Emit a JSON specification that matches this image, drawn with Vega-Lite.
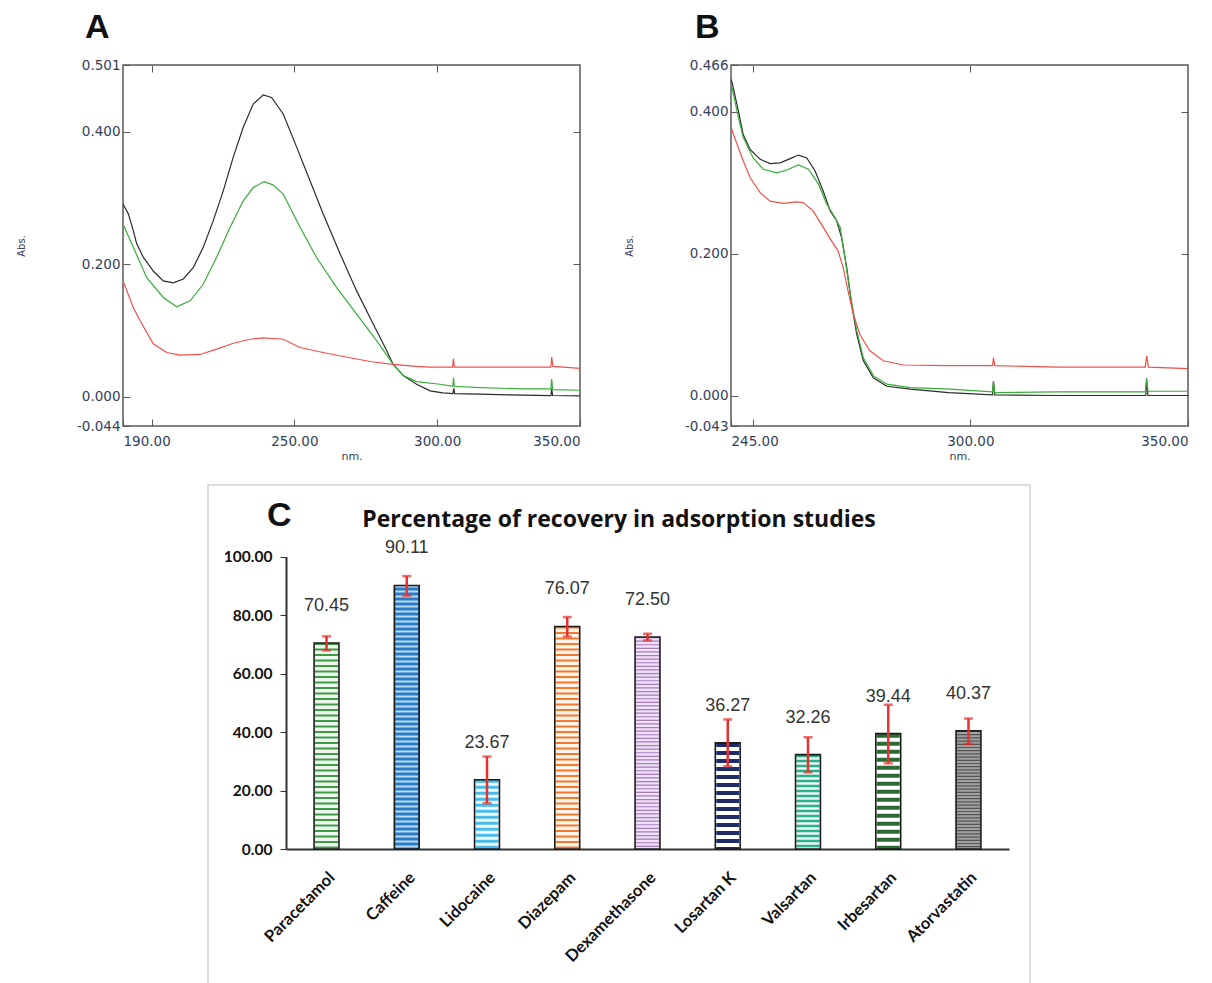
{
  "$schema": "https://vega.github.io/schema/vega-lite/v6.json",
  "background": "white",
  "padding": {"left": 15, "top": 10, "right": 10, "bottom": 0},
  "config": {"view": {"stroke": "#5a5a5a", "strokeWidth": 1.5}, "font": "DejaVu Sans"},
  "datasets": {
    "specA": [
      {"nm": 190.0, "abs": 0.291, "s": "k"}, {"nm": 191.9, "abs": 0.276, "s": "k"}, {"nm": 193.6, "abs": 0.251, "s": "k"}, {"nm": 194.8, "abs": 0.231, "s": "k"}, {"nm": 197.1, "abs": 0.211, "s": "k"}, {"nm": 200.6, "abs": 0.190, "s": "k"}, {"nm": 204.1, "abs": 0.175, "s": "k"}, {"nm": 207.6, "abs": 0.172, "s": "k"}, {"nm": 211.1, "abs": 0.178, "s": "k"}, {"nm": 214.6, "abs": 0.195, "s": "k"}, {"nm": 218.1, "abs": 0.226, "s": "k"}, {"nm": 221.6, "abs": 0.266, "s": "k"}, {"nm": 225.1, "abs": 0.311, "s": "k"}, {"nm": 228.6, "abs": 0.362, "s": "k"}, {"nm": 232.1, "abs": 0.407, "s": "k"}, {"nm": 235.6, "abs": 0.442, "s": "k"}, {"nm": 239.1, "abs": 0.456, "s": "k"}, {"nm": 242.0, "abs": 0.452, "s": "k"}, {"nm": 246.1, "abs": 0.427, "s": "k"}, {"nm": 250.8, "abs": 0.377, "s": "k"}, {"nm": 255.5, "abs": 0.326, "s": "k"}, {"nm": 260.1, "abs": 0.276, "s": "k"}, {"nm": 266.0, "abs": 0.216, "s": "k"}, {"nm": 271.8, "abs": 0.160, "s": "k"}, {"nm": 277.6, "abs": 0.110, "s": "k"}, {"nm": 282.3, "abs": 0.070, "s": "k"}, {"nm": 284.6, "abs": 0.049, "s": "k"}, {"nm": 288.1, "abs": 0.032, "s": "k"}, {"nm": 292.8, "abs": 0.019, "s": "k"}, {"nm": 297.5, "abs": 0.009, "s": "k"}, {"nm": 302.0, "abs": 0.006, "s": "k"}, {"nm": 305.5, "abs": 0.005, "s": "k"}, {"nm": 305.8, "abs": 0.013, "s": "k"}, {"nm": 306.1, "abs": 0.005, "s": "k"}, {"nm": 315.0, "abs": 0.004, "s": "k"}, {"nm": 325.0, "abs": 0.003, "s": "k"}, {"nm": 339.8, "abs": 0.002, "s": "k"}, {"nm": 340.1, "abs": 0.012, "s": "k"}, {"nm": 340.4, "abs": 0.002, "s": "k"}, {"nm": 350.0, "abs": 0.0015, "s": "k"},
      {"nm": 190.0, "abs": 0.261, "s": "g"}, {"nm": 193.6, "abs": 0.226, "s": "g"}, {"nm": 198.3, "abs": 0.180, "s": "g"}, {"nm": 204.1, "abs": 0.150, "s": "g"}, {"nm": 208.8, "abs": 0.136, "s": "g"}, {"nm": 213.5, "abs": 0.145, "s": "g"}, {"nm": 218.1, "abs": 0.170, "s": "g"}, {"nm": 222.8, "abs": 0.211, "s": "g"}, {"nm": 227.5, "abs": 0.256, "s": "g"}, {"nm": 232.1, "abs": 0.296, "s": "g"}, {"nm": 235.6, "abs": 0.316, "s": "g"}, {"nm": 239.4, "abs": 0.325, "s": "g"}, {"nm": 242.5, "abs": 0.320, "s": "g"}, {"nm": 246.1, "abs": 0.306, "s": "g"}, {"nm": 252.0, "abs": 0.256, "s": "g"}, {"nm": 257.8, "abs": 0.210, "s": "g"}, {"nm": 264.8, "abs": 0.165, "s": "g"}, {"nm": 271.8, "abs": 0.125, "s": "g"}, {"nm": 278.8, "abs": 0.085, "s": "g"}, {"nm": 284.6, "abs": 0.049, "s": "g"}, {"nm": 288.2, "abs": 0.032, "s": "g"}, {"nm": 292.8, "abs": 0.023, "s": "g"}, {"nm": 301.0, "abs": 0.019, "s": "g"}, {"nm": 305.5, "abs": 0.016, "s": "g"}, {"nm": 305.7, "abs": 0.029, "s": "g"}, {"nm": 306.0, "abs": 0.016, "s": "g"}, {"nm": 315.0, "abs": 0.014, "s": "g"}, {"nm": 330.2, "abs": 0.012, "s": "g"}, {"nm": 339.8, "abs": 0.012, "s": "g"}, {"nm": 340.1, "abs": 0.027, "s": "g"}, {"nm": 340.4, "abs": 0.011, "s": "g"}, {"nm": 350.0, "abs": 0.010, "s": "g"},
      {"nm": 190.0, "abs": 0.175, "s": "r"}, {"nm": 193.6, "abs": 0.135, "s": "r"}, {"nm": 196.0, "abs": 0.115, "s": "r"}, {"nm": 200.6, "abs": 0.080, "s": "r"}, {"nm": 205.3, "abs": 0.067, "s": "r"}, {"nm": 209.9, "abs": 0.063, "s": "r"}, {"nm": 217.0, "abs": 0.064, "s": "r"}, {"nm": 222.8, "abs": 0.072, "s": "r"}, {"nm": 228.6, "abs": 0.081, "s": "r"}, {"nm": 234.5, "abs": 0.087, "s": "r"}, {"nm": 239.1, "abs": 0.089, "s": "r"}, {"nm": 246.1, "abs": 0.087, "s": "r"}, {"nm": 252.0, "abs": 0.0745, "s": "r"}, {"nm": 260.0, "abs": 0.067, "s": "r"}, {"nm": 269.5, "abs": 0.059, "s": "r"}, {"nm": 277.0, "abs": 0.053, "s": "r"}, {"nm": 284.6, "abs": 0.049, "s": "r"}, {"nm": 292.8, "abs": 0.046, "s": "r"}, {"nm": 297.5, "abs": 0.045, "s": "r"}, {"nm": 305.4, "abs": 0.045, "s": "r"}, {"nm": 305.7, "abs": 0.058, "s": "r"}, {"nm": 306.0, "abs": 0.045, "s": "r"}, {"nm": 320.0, "abs": 0.045, "s": "r"}, {"nm": 339.8, "abs": 0.045, "s": "r"}, {"nm": 340.1, "abs": 0.060, "s": "r"}, {"nm": 340.5, "abs": 0.046, "s": "r"}, {"nm": 350.0, "abs": 0.043, "s": "r"}
    ],
    "specB": [
      {"nm": 245.0, "abs": 0.446, "s": "k"}, {"nm": 245.3, "abs": 0.440, "s": "k"}, {"nm": 246.7, "abs": 0.401, "s": "k"}, {"nm": 247.8, "abs": 0.368, "s": "k"}, {"nm": 249.4, "abs": 0.347, "s": "k"}, {"nm": 251.7, "abs": 0.333, "s": "k"}, {"nm": 254.0, "abs": 0.327, "s": "k"}, {"nm": 256.3, "abs": 0.328, "s": "k"}, {"nm": 258.6, "abs": 0.334, "s": "k"}, {"nm": 260.5, "abs": 0.339, "s": "k"}, {"nm": 262.4, "abs": 0.335, "s": "k"}, {"nm": 264.3, "abs": 0.317, "s": "k"}, {"nm": 266.2, "abs": 0.288, "s": "k"}, {"nm": 267.8, "abs": 0.260, "s": "k"}, {"nm": 269.3, "abs": 0.246, "s": "k"}, {"nm": 270.4, "abs": 0.2225, "s": "k"}, {"nm": 271.6, "abs": 0.180, "s": "k"}, {"nm": 272.7, "abs": 0.129, "s": "k"}, {"nm": 273.9, "abs": 0.086, "s": "k"}, {"nm": 275.4, "abs": 0.049, "s": "k"}, {"nm": 277.7, "abs": 0.025, "s": "k"}, {"nm": 280.8, "abs": 0.013, "s": "k"}, {"nm": 286.2, "abs": 0.009, "s": "k"}, {"nm": 295.0, "abs": 0.004, "s": "k"}, {"nm": 305.1, "abs": 0.001, "s": "k"}, {"nm": 305.3, "abs": 0.020, "s": "k"}, {"nm": 305.6, "abs": 0.001, "s": "k"}, {"nm": 320.0, "abs": 0.0, "s": "k"}, {"nm": 340.3, "abs": 0.0, "s": "k"}, {"nm": 340.5, "abs": 0.022, "s": "k"}, {"nm": 340.8, "abs": 0.0, "s": "k"}, {"nm": 350.0, "abs": 0.0, "s": "k"},
      {"nm": 245.0, "abs": 0.438, "s": "g"}, {"nm": 245.3, "abs": 0.432, "s": "g"}, {"nm": 246.7, "abs": 0.392, "s": "g"}, {"nm": 247.8, "abs": 0.364, "s": "g"}, {"nm": 250.1, "abs": 0.335, "s": "g"}, {"nm": 252.4, "abs": 0.319, "s": "g"}, {"nm": 255.5, "abs": 0.314, "s": "g"}, {"nm": 257.8, "abs": 0.318, "s": "g"}, {"nm": 260.5, "abs": 0.325, "s": "g"}, {"nm": 262.8, "abs": 0.319, "s": "g"}, {"nm": 265.1, "abs": 0.298, "s": "g"}, {"nm": 267.0, "abs": 0.270, "s": "g"}, {"nm": 268.9, "abs": 0.251, "s": "g"}, {"nm": 270.1, "abs": 0.237, "s": "g"}, {"nm": 271.2, "abs": 0.194, "s": "g"}, {"nm": 272.4, "abs": 0.143, "s": "g"}, {"nm": 273.9, "abs": 0.091, "s": "g"}, {"nm": 275.4, "abs": 0.053, "s": "g"}, {"nm": 277.7, "abs": 0.028, "s": "g"}, {"nm": 280.8, "abs": 0.016, "s": "g"}, {"nm": 286.2, "abs": 0.011, "s": "g"}, {"nm": 295.3, "abs": 0.009, "s": "g"}, {"nm": 305.1, "abs": 0.005, "s": "g"}, {"nm": 305.3, "abs": 0.020, "s": "g"}, {"nm": 305.6, "abs": 0.004, "s": "g"}, {"nm": 320.0, "abs": 0.005, "s": "g"}, {"nm": 340.2, "abs": 0.005, "s": "g"}, {"nm": 340.5, "abs": 0.025, "s": "g"}, {"nm": 340.8, "abs": 0.006, "s": "g"}, {"nm": 350.0, "abs": 0.006, "s": "g"},
      {"nm": 245.0, "abs": 0.380, "s": "r"}, {"nm": 245.3, "abs": 0.373, "s": "r"}, {"nm": 246.7, "abs": 0.349, "s": "r"}, {"nm": 247.8, "abs": 0.331, "s": "r"}, {"nm": 249.4, "abs": 0.307, "s": "r"}, {"nm": 251.7, "abs": 0.286, "s": "r"}, {"nm": 254.0, "abs": 0.274, "s": "r"}, {"nm": 257.0, "abs": 0.271, "s": "r"}, {"nm": 260.1, "abs": 0.273, "s": "r"}, {"nm": 261.6, "abs": 0.272, "s": "r"}, {"nm": 263.9, "abs": 0.260, "s": "r"}, {"nm": 266.2, "abs": 0.237, "s": "r"}, {"nm": 268.1, "abs": 0.218, "s": "r"}, {"nm": 269.6, "abs": 0.204, "s": "r"}, {"nm": 270.8, "abs": 0.180, "s": "r"}, {"nm": 271.9, "abs": 0.147, "s": "r"}, {"nm": 273.1, "abs": 0.115, "s": "r"}, {"nm": 274.6, "abs": 0.086, "s": "r"}, {"nm": 276.9, "abs": 0.063, "s": "r"}, {"nm": 280.0, "abs": 0.049, "s": "r"}, {"nm": 284.6, "abs": 0.043, "s": "r"}, {"nm": 295.0, "abs": 0.042, "s": "r"}, {"nm": 305.1, "abs": 0.042, "s": "r"}, {"nm": 305.3, "abs": 0.053, "s": "r"}, {"nm": 305.6, "abs": 0.042, "s": "r"}, {"nm": 320.0, "abs": 0.040, "s": "r"}, {"nm": 340.2, "abs": 0.040, "s": "r"}, {"nm": 340.5, "abs": 0.056, "s": "r"}, {"nm": 340.9, "abs": 0.040, "s": "r"}, {"nm": 350.0, "abs": 0.038, "s": "r"}
    ],
    "rec": [
      {"drug": "Paracetamol", "value": 70.45, "lo": 67.9, "hi": 72.7},
      {"drug": "Caffeine", "value": 90.11, "lo": 86.6, "hi": 93.3},
      {"drug": "Lidocaine", "value": 23.67, "lo": 15.7, "hi": 31.6},
      {"drug": "Diazepam", "value": 76.07, "lo": 72.6, "hi": 79.3},
      {"drug": "Dexamethasone", "value": 72.50, "lo": 71.3, "hi": 73.6},
      {"drug": "Losartan K", "value": 36.27, "lo": 28.3, "hi": 44.3},
      {"drug": "Valsartan", "value": 32.26, "lo": 26.2, "hi": 38.2},
      {"drug": "Irbesartan", "value": 39.44, "lo": 29.3, "hi": 49.3},
      {"drug": "Atorvastatin", "value": 40.37, "lo": 35.9, "hi": 44.6}
    ],
    "none": []
  },
  "spacing": 21,
  "vconcat": [
    {
      "bounds": "flush",
      "spacing": 151,
      "hconcat": [
        {
          "width": 457, "height": 361,
          "title": {"text": "A", "anchor": "start", "frame": "group", "dx": -38, "offset": 13, "fontSize": 34, "font": "Liberation Sans", "fontWeight": "bold", "color": "#111111"},
          "resolve": {"axis": {"x": "independent", "y": "independent"}},
          "layer": [
            {
              "data": {"name": "specA"},
              "mark": {"type": "line", "strokeWidth": 1.2, "clip": true},
              "encoding": {
                "x": {"field": "nm", "type": "quantitative", "scale": {"domain": [190, 350], "nice": false, "zero": false},
                      "axis": {"values": [190, 200, 250, 300, 350], "labelExpr": "datum.value == 200 ? '' : format(datum.value, '.2f')", "tickSize": -7, "tickColor": "#5a5a5a", "domain": false, "grid": false, "labelPadding": 15, "labelFont": "DejaVu Sans", "labelFontSize": 13.5, "labelColor": "#34405a", "title": "nm.", "titleFont": "DejaVu Sans", "titleFontSize": 11, "titleFontWeight": "normal", "titleColor": "#34405a", "titlePadding": 3}},
                "y": {"field": "abs", "type": "quantitative", "scale": {"domain": [-0.044, 0.501], "nice": false, "zero": false},
                      "axis": {"values": [-0.044, 0, 0.2, 0.4, 0.501], "labelExpr": "replace(format(datum.value, '.3f'), '\u2212', '-')", "tickSize": -7, "tickColor": "#5a5a5a", "domain": false, "grid": false, "labelPadding": 10, "labelFont": "DejaVu Sans", "labelFontSize": 13.5, "labelColor": "#34405a", "title": "Abs.", "titleFont": "DejaVu Sans", "titleFontSize": 10, "titleFontWeight": "normal", "titleColor": "#34405a", "titlePadding": 50}},
                "color": {"field": "s", "type": "nominal", "scale": {"domain": ["k", "g", "r"], "range": ["#2b2b2b", "#3aac3a", "#f0504c"]}, "legend": null}
              }
            },
            {
              "mark": {"type": "rule", "color": "#444444", "strokeWidth": 1.2},
              "encoding": {
                "x": {"datum": 190, "type": "quantitative", "axis": {"orient": "top", "values": [200, 250, 300], "labels": false, "domain": false, "grid": false, "tickSize": -7, "tickColor": "#5a5a5a", "title": null}},
                "x2": {"datum": 350},
                "y": {"datum": 0, "type": "quantitative", "axis": {"orient": "right", "values": [0.2, 0.4], "labels": false, "domain": false, "grid": false, "tickSize": -7, "tickColor": "#5a5a5a", "title": null}}
              }
            }
          ]
        },
        {
          "width": 457, "height": 361,
          "title": {"text": "B", "anchor": "start", "frame": "group", "dx": -36, "offset": 13, "fontSize": 34, "font": "Liberation Sans", "fontWeight": "bold", "color": "#111111"},
          "resolve": {"axis": {"x": "independent", "y": "independent"}},
          "layer": [
            {
              "data": {"name": "specB"},
              "mark": {"type": "line", "strokeWidth": 1.2, "clip": true},
              "encoding": {
                "x": {"field": "nm", "type": "quantitative", "scale": {"domain": [245, 350], "nice": false, "zero": false},
                      "axis": {"values": [245, 250, 300, 350], "labelExpr": "datum.value == 250 ? '' : format(datum.value, '.2f')", "tickSize": -7, "tickColor": "#5a5a5a", "domain": false, "grid": false, "labelPadding": 15, "labelFont": "DejaVu Sans", "labelFontSize": 13.5, "labelColor": "#34405a", "title": "nm.", "titleFont": "DejaVu Sans", "titleFontSize": 11, "titleFontWeight": "normal", "titleColor": "#34405a", "titlePadding": 3}},
                "y": {"field": "abs", "type": "quantitative", "scale": {"domain": [-0.043, 0.466], "nice": false, "zero": false},
                      "axis": {"values": [-0.043, 0, 0.2, 0.4, 0.466], "labelExpr": "replace(format(datum.value, '.3f'), '\u2212', '-')", "tickSize": -7, "tickColor": "#5a5a5a", "domain": false, "grid": false, "labelPadding": 10, "labelFont": "DejaVu Sans", "labelFontSize": 13.5, "labelColor": "#34405a", "title": "Abs.", "titleFont": "DejaVu Sans", "titleFontSize": 10, "titleFontWeight": "normal", "titleColor": "#34405a", "titlePadding": 50}},
                "color": {"field": "s", "type": "nominal", "scale": {"domain": ["k", "g", "r"], "range": ["#2b2b2b", "#3aac3a", "#f0504c"]}, "legend": null}
              }
            },
            {
              "mark": {"type": "rule", "color": "#444444", "strokeWidth": 1.2},
              "encoding": {
                "x": {"datum": 245, "type": "quantitative", "axis": {"orient": "top", "values": [250, 300], "labels": false, "domain": false, "grid": false, "tickSize": -7, "tickColor": "#5a5a5a", "title": null}},
                "x2": {"datum": 350},
                "y": {"datum": 0, "type": "quantitative", "axis": {"orient": "right", "values": [0.2, 0.4], "labels": false, "domain": false, "grid": false, "tickSize": -7, "tickColor": "#5a5a5a", "title": null}}
              }
            }
          ]
        }
      ]
    },
    {
      "bounds": "flush",
      "spacing": 84,
      "title": {"text": "C", "anchor": "start", "frame": "group", "dx": 144, "offset": -49, "fontSize": 34, "font": "Liberation Sans", "fontWeight": "bold", "color": "#111111"},
      "hconcat": [
        {
          "width": 1, "height": 1,
          "data": {"name": "none"},
          "mark": "point",
          "view": {"stroke": null}
        },
        {
          "width": 822, "height": 505,
          "view": {"stroke": "#d2d2d2", "strokeWidth": 1.5},
          "title": {"text": "Percentage of recovery in adsorption studies", "anchor": "middle", "frame": "group", "offset": -47, "fontSize": 23, "font": "Open Sans", "fontWeight": "bold", "color": "#111111"},
          "data": {"name": "rec"},
          "encoding": {
            "x": {"field": "drug", "type": "nominal", "sort": null,
                  "scale": {"domain": ["Paracetamol", "Caffeine", "Lidocaine", "Diazepam", "Dexamethasone", "Losartan K", "Valsartan", "Irbesartan", "Atorvastatin"], "range": [78, 801], "paddingInner": 0.69, "paddingOuter": 0.35},
                  "axis": {"orient": "bottom", "offset": -141, "title": null, "labelAngle": -45, "labelFont": "Lato", "labelFontWeight": "bold", "labelFontSize": 16.5, "labelColor": "#111111", "ticks": false, "domainColor": "#333333", "domainWidth": 2, "labelPadding": 20}}
          },
          "layer": [
            {
              "mark": {"type": "bar", "strokeWidth": 0},
              "encoding": {
                "y": {"field": "value", "type": "quantitative", "scale": {"domain": [0, 100], "range": [364, 71.5], "nice": false},
                      "axis": {"orient": "left", "offset": -78, "values": [0, 20, 40, 60, 80, 100], "format": ".2f", "title": null, "grid": false, "labelFont": "Lato", "labelFontWeight": "bold", "labelFontSize": 15.5, "labelColor": "#111111", "tickColor": "#333333", "tickSize": 6, "domainColor": "#333333", "domainWidth": 2, "labelPadding": 8}},
                "fill": {"field": "drug", "type": "nominal", "sort": null,
                         "scale": {"domain": ["Paracetamol", "Caffeine", "Lidocaine", "Diazepam", "Dexamethasone", "Losartan K", "Valsartan", "Irbesartan", "Atorvastatin"], "range": ["#eef7ee", "#2a7cc6", "#f2fbff", "#fff3ea", "#eee2f4", "#ffffff", "#eefaf5", "#ffffff", "#a0a0a0"]}, "legend": null}
              }
            },
            {
              "mark": {"type": "rule", "strokeWidth": 23, "strokeCap": "butt"},
              "encoding": {
                "y": {"field": "value", "type": "quantitative"},
                "y2": {"datum": 0},
                "stroke": {"field": "drug", "type": "nominal", "sort": null,
                           "scale": {"domain": ["Paracetamol", "Caffeine", "Lidocaine", "Diazepam", "Dexamethasone", "Losartan K", "Valsartan", "Irbesartan", "Atorvastatin"], "range": ["#3f9a45", "#b9dbf5", "#45bde8", "#f27a30", "#a77bc0", "#1d2a6b", "#28b08a", "#2c6a33", "#555555"]}, "legend": null},
                "strokeDash": {"field": "drug", "type": "nominal", "sort": null,
                               "scale": {"domain": ["Paracetamol", "Caffeine", "Lidocaine", "Diazepam", "Dexamethasone", "Losartan K", "Valsartan", "Irbesartan", "Atorvastatin"], "range": [[2, 3.5], [2, 3], [3, 3], [2, 3.5], [1.2, 2.4], [4, 4], [2.5, 2.5], [4, 4], [1.2, 2]]}, "legend": null}
              }
            },
            {
              "mark": {"type": "bar", "filled": false, "stroke": "#1a1a1a", "strokeWidth": 1.6},
              "encoding": {
                "y": {"field": "value", "type": "quantitative"}
              }
            },
            {
              "mark": {"type": "errorbar", "color": "#e8302f", "thickness": 2.5, "ticks": {"size": 9, "thickness": 2.5, "color": "#e8302f"}},
              "encoding": {
                "y": {"field": "lo", "type": "quantitative"},
                "y2": {"field": "hi"}
              }
            },
            {
              "mark": {"type": "text", "dy": -37, "fontSize": 18, "font": "Liberation Sans", "color": "#333333"},
              "encoding": {
                "y": {"field": "value", "type": "quantitative"},
                "text": {"field": "value", "type": "quantitative", "format": ".2f"}
              }
            }
          ]
        }
      ]
    }
  ]
}
